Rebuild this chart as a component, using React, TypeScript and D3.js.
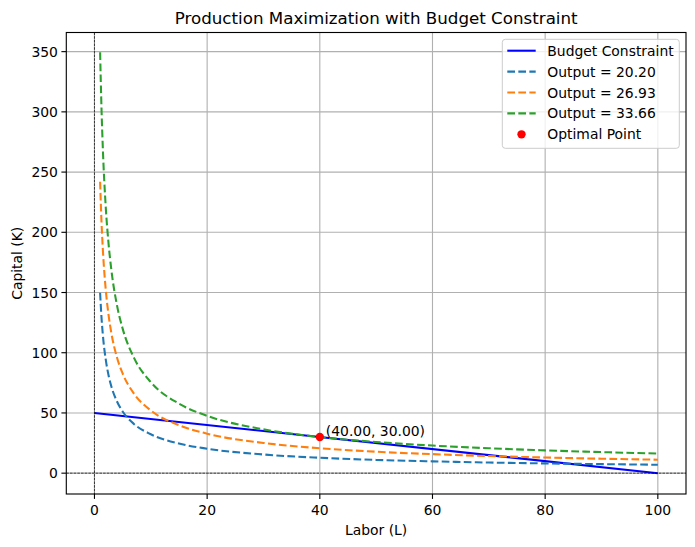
import React from "react";
import * as d3 from "d3";

const laborSamples = [1, 1.25, 1.5, 2, 2.5, 3, 4, 5, 7, 10, 15, 20, 30, 40, 50, 60, 70, 80, 90, 100];
const capitalOutput1 = [149.8, 129.1, 114.3, 94.4, 81.3, 72.0, 59.5, 51.2, 40.9, 32.3, 24.6, 20.3, 15.5, 12.8, 11.0, 9.8, 8.8, 8.1, 7.5, 7.0];
const capitalOutput2 = [242.0, 208.6, 184.7, 152.5, 131.4, 116.3, 96.0, 82.8, 66.1, 52.1, 39.8, 32.8, 25.1, 20.7, 17.8, 15.8, 14.2, 13.0, 12.0, 11.2];
const capitalOutput3 = [349.5, 302.5, 267.9, 221.1, 190.6, 168.7, 139.3, 120.0, 95.9, 75.6, 57.7, 47.6, 36.4, 30.0, 25.9, 22.9, 20.7, 18.9, 17.5, 16.3];
const budgetLabor = [0, 100];
const budgetCapital = [50, 0];
const optimalPoint = { L: 40, K: 30 };
const seriesLabels = ["Output = 20.20", "Output = 26.93", "Output = 33.66"];
const seriesColors = ["#1f77b4", "#ff7f0e", "#2ca02c"];
const xTicks = [0, 20, 40, 60, 80, 100];
const yTicks = [0, 50, 100, 150, 200, 250, 300, 350];

const W = 695;
const H = 547;
const left = 66.3;
const right = 686;
const top = 32.5;
const bottom = 494;
const FONT = "DejaVu Sans, sans-serif";
const LW = 2.08;
const DASH = "7.7,3.33";

export default function App() {
  const x = d3.scaleLinear().domain([-5, 105]).range([left, right]);
  const y = d3.scaleLinear().domain([-17.3, 365.9]).range([bottom, top]);

  const curveLine = d3
    .line<[number, number]>()
    .x((d) => x(d[0]))
    .y((d) => y(d[1]))
    .curve(d3.curveMonotoneX);
  const straight = d3
    .line<[number, number]>()
    .x((d) => x(d[0]))
    .y((d) => y(d[1]));

  const isoSeries = [capitalOutput1, capitalOutput2, capitalOutput3].map((arr) =>
    laborSamples.map((l, i) => [l, arr[i]] as [number, number])
  );
  const budget = budgetLabor.map((l, i) => [l, budgetCapital[i]] as [number, number]);

  const legendX = 502.3;
  const legendY = 39.3;
  const legendW = 177;
  const legendH = 109;
  const rowY = (i: number) => 50.7 + i * 20.9;

  return (
    <div style={{ position: "absolute", left: 0, top: 0 }}>
      <svg width={W} height={H} style={{ display: "block", background: "#fff" }} fontFamily={FONT}>
        <defs>
          <clipPath id="plotclip">
            <rect x={left} y={top} width={right - left} height={bottom - top} />
          </clipPath>
        </defs>
        {/* grid */}
        {xTicks.map((t) => (
          <line key={"gx" + t} x1={x(t)} x2={x(t)} y1={top} y2={bottom} stroke="#b0b0b0" strokeWidth={1.11} />
        ))}
        {yTicks.map((t) => (
          <line key={"gy" + t} x1={left} x2={right} y1={y(t)} y2={y(t)} stroke="#b0b0b0" strokeWidth={1.11} />
        ))}
        <g clipPath="url(#plotclip)">
          <path d={straight(budget) || ""} fill="none" stroke="#0000ff" strokeWidth={LW} />
          {isoSeries.map((s, i) => (
            <path
              key={"iso" + i}
              d={curveLine(s) || ""}
              fill="none"
              stroke={seriesColors[i]}
              strokeWidth={LW}
              strokeDasharray={DASH}
            />
          ))}
          {/* axhline / axvline */}
          <line x1={left} x2={right} y1={y(0)} y2={y(0)} stroke="#000" strokeWidth={0.7} strokeDasharray="2.57,1.11" />
          <line x1={x(0)} x2={x(0)} y1={top} y2={bottom} stroke="#000" strokeWidth={0.7} strokeDasharray="2.57,1.11" />
          <circle cx={x(optimalPoint.L)} cy={y(optimalPoint.K)} r={4.17} fill="#ff0000" />
        </g>
        <text x={x(optimalPoint.L) + 6} y={y(optimalPoint.K) - 1.5} fontSize={13.9} fill="#000">
          {`(${optimalPoint.L.toFixed(2)}, ${optimalPoint.K.toFixed(2)})`}
        </text>
        {/* spines */}
        <rect x={left} y={top} width={right - left} height={bottom - top} fill="none" stroke="#000" strokeWidth={1.11} />
        {/* ticks */}
        {xTicks.map((t) => (
          <g key={"xt" + t}>
            <line x1={x(t)} x2={x(t)} y1={bottom} y2={bottom + 4.9} stroke="#000" strokeWidth={1.11} />
            <text x={x(t)} y={bottom + 21} fontSize={13.9} textAnchor="middle" fill="#000">
              {t}
            </text>
          </g>
        ))}
        {yTicks.map((t) => (
          <g key={"yt" + t}>
            <line x1={left - 4.9} x2={left} y1={y(t)} y2={y(t)} stroke="#000" strokeWidth={1.11} />
            <text x={left - 8.4} y={y(t) + 5} fontSize={13.9} textAnchor="end" fill="#000">
              {t}
            </text>
          </g>
        ))}
        {/* labels */}
        <text x={(left + right) / 2} y={24} fontSize={16.7} textAnchor="middle" fill="#000">
          Production Maximization with Budget Constraint
        </text>
        <text x={(left + right) / 2} y={535} fontSize={13.9} textAnchor="middle" fill="#000">
          Labor (L)
        </text>
        <text
          transform={`translate(22,${(top + bottom) / 2}) rotate(-90)`}
          fontSize={13.9}
          textAnchor="middle"
          fill="#000"
        >
          Capital (K)
        </text>
        {/* legend */}
        <rect
          x={legendX}
          y={legendY}
          width={legendW}
          height={legendH}
          rx={3}
          fill="#fff"
          fillOpacity={0.8}
          stroke="#cccccc"
          strokeWidth={1}
        />
        <line x1={507.3} x2={535.7} y1={rowY(0)} y2={rowY(0)} stroke="#0000ff" strokeWidth={LW} />
        <text x={547.3} y={rowY(0) + 5} fontSize={13.9} fill="#000">
          Budget Constraint
        </text>
        {seriesLabels.map((lab, i) => (
          <g key={"lg" + i}>
            <line
              x1={507.3}
              x2={535.7}
              y1={rowY(i + 1)}
              y2={rowY(i + 1)}
              stroke={seriesColors[i]}
              strokeWidth={LW}
              strokeDasharray={DASH}
            />
            <text x={547.3} y={rowY(i + 1) + 5} fontSize={13.9} fill="#000">
              {lab}
            </text>
          </g>
        ))}
        <circle cx={521.5} cy={rowY(4)} r={4.17} fill="#ff0000" />
        <text x={547.3} y={rowY(4) + 5} fontSize={13.9} fill="#000">
          Optimal Point
        </text>
      </svg>
    </div>
  );
}
